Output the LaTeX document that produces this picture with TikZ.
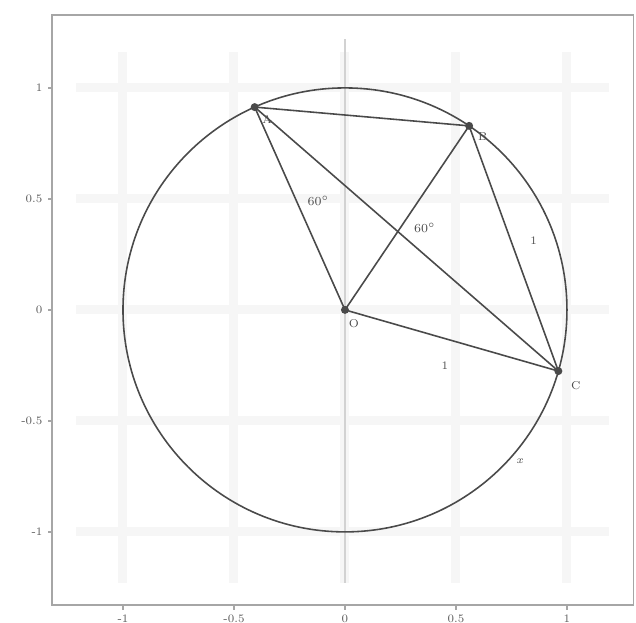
\documentclass[tikz,border=0pt]{standalone}
\usepackage{tikz}
\usetikzlibrary{calc}
\usepackage{xcolor}
\definecolor{inkgray}{HTML}{4A4A4A}
\definecolor{bandgray}{HTML}{F6F6F6}
\tikzset{
  frameline/.style={draw=gray!70, line width=0.9pt},
  gridband/.style={draw=bandgray, line width=1.8mm},
  seg/.style={draw=inkgray, line width=0.9pt},
  dot/.style={circle, fill=inkgray, inner sep=0pt, minimum size=1.6mm},
  ticklab/.style={font=\fontsize{6.5}{7}\selectfont, text=gray!70!black},
  ptlab/.style={font=\fontsize{6.5}{7}\selectfont, text=inkgray},
  anglab/.style={font=\fontsize{7}{8}\selectfont\bfseries, text=inkgray}
}

\begin{document}
\begin{tikzpicture}[x=4.44cm, y=4.44cm]
  \useasboundingbox (-1.554,-1.410) rectangle (1.311,1.396);

  % grid
  \foreach \t in {-1,-0.5,0,0.5,1} {
    \draw[gridband] (\t,-1.23) -- (\t,1.16);
    \draw[gridband] (-1.21,\t) -- (1.19,\t);
  }
  \draw[draw=gray!35, line width=0.8pt] (0,-1.23) -- (0,1.22);

  % frame and ticks
  \draw[frameline] (-1.32,-1.329) rectangle (1.30,1.329);
  \foreach \t/\lab in {-1/-1,-0.5/-0.5,0/0,0.5/0.5,1/1} {
    \draw[frameline] (\t,-1.329) -- (\t,-1.35);
    \node[ticklab, anchor=north] (xt\lab) at (\t,-1.345) {\lab};
    \draw[frameline] (-1.32,\t) -- (-1.34,\t);
    \node[ticklab, anchor=east] (yt\lab) at (-1.335,\t) {\lab};
  }

  % circle and points
  \coordinate (O) at (0,0);
  \coordinate (A) at (114:1);
  \coordinate (B) at (56:1);
  \coordinate (C) at (-16:1);
  \draw[seg] (O) circle (1);

  \draw[seg] (A) -- (B);
  \draw[seg] (O) -- (A);
  \draw[seg] (O) -- (B);
  \draw[seg] (O) -- (C);
  \draw[seg] (A) -- (C);
  \draw[seg] (B) -- (C);

  \node[dot] (dO) at (O) {};
  \node[dot] (dA) at (A) {};
  \node[dot] (dB) at (B) {};
  \node[dot] (dC) at (C) {};

  % labels
  \node[ptlab] (lO) at (0.04,-0.06) {O};
  \node[ptlab] (lA) at (-0.35,0.86) {A};
  \node[ptlab] (lB) at (0.62,0.78) {B};
  \node[ptlab] (lC) at (1.04,-0.34) {C};
  \node[anglab] (a1) at (-0.12,0.49) {$60^\circ$};
  \node[anglab] (a2) at (0.36,0.37) {$60^\circ$};
  \node[ptlab] (r1) at (0.45,-0.25) {1};
  \node[ptlab] (r2) at (0.85,0.31) {1};
  \node[ptlab] (lx) at (0.79,-0.68) {$x$};
\end{tikzpicture}
\end{document}
